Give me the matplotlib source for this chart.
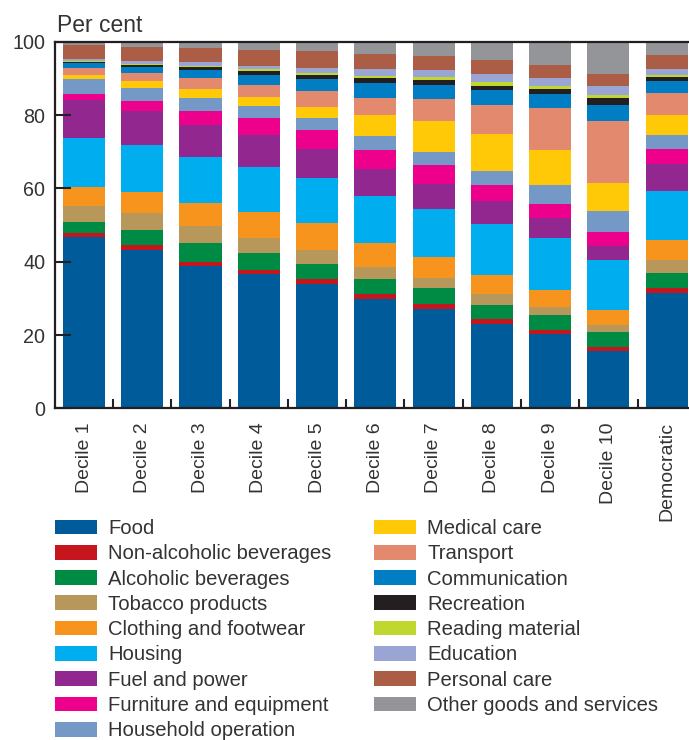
import matplotlib
matplotlib.use("Agg")
import matplotlib.pyplot as plt
import numpy as np

plt.rcParams["font.family"] = ["Liberation Sans", "DejaVu Sans"]

# Household spending shares by income decile (per cent of total expenditure)
groups = ["Decile 1", "Decile 2", "Decile 3", "Decile 4", "Decile 5", "Decile 6",
          "Decile 7", "Decile 8", "Decile 9", "Decile 10", "Democratic"]

food = [46.6, 43.3, 38.9, 36.7, 33.9, 29.7, 27.0, 23.0, 20.3, 15.6, 31.4]
non_alcoholic = [1.2, 1.2, 1.0, 1.1, 1.3, 1.5, 1.4, 1.4, 1.1, 1.1, 1.4]
alcoholic = [3.0, 4.1, 5.2, 4.6, 4.2, 4.1, 4.4, 3.8, 4.0, 4.1, 4.1]
tobacco = [4.4, 4.7, 4.6, 4.0, 3.8, 3.2, 2.7, 3.0, 2.2, 1.9, 3.5]
clothing = [5.2, 5.8, 6.4, 7.2, 7.3, 6.6, 5.8, 5.2, 4.7, 4.1, 5.5]
housing = [13.4, 12.7, 12.4, 12.2, 12.4, 12.9, 13.1, 13.9, 14.1, 13.6, 13.4]
fuel = [10.4, 9.3, 8.8, 8.7, 7.8, 7.3, 6.8, 6.3, 5.5, 3.9, 7.3]
furniture = [1.6, 2.7, 3.8, 4.7, 5.3, 5.1, 5.2, 4.3, 3.8, 3.8, 4.1]
household_op = [4.0, 3.6, 3.5, 3.2, 3.2, 3.9, 3.5, 3.8, 5.2, 5.7, 3.8]
medical = [1.1, 1.9, 2.5, 2.5, 3.0, 5.7, 8.5, 10.1, 9.5, 7.7, 5.5]
transport = [1.9, 2.1, 3.0, 3.3, 4.3, 4.6, 6.0, 7.9, 11.5, 16.9, 6.0]
communication = [1.4, 1.8, 2.2, 2.7, 3.3, 4.1, 3.8, 4.1, 3.8, 4.3, 3.3]
recreation = [0.3, 0.5, 0.8, 1.2, 1.2, 1.4, 1.3, 1.2, 1.4, 1.9, 1.1]
reading = [0.3, 0.3, 0.4, 0.4, 0.4, 0.5, 0.8, 1.1, 0.8, 0.8, 0.5]
education = [0.5, 0.7, 0.9, 0.9, 1.4, 1.9, 2.0, 2.1, 2.2, 2.5, 1.6]
personal_care = [3.8, 3.8, 3.9, 4.3, 4.6, 4.1, 3.8, 3.8, 3.5, 3.3, 3.9]
other = [0.9, 1.5, 1.7, 2.3, 2.6, 3.4, 3.9, 5.0, 6.4, 8.8, 3.6]

series = [
    ("Food", food, "#005b9a"),
    ("Non-alcoholic beverages", non_alcoholic, "#c4161c"),
    ("Alcoholic beverages", alcoholic, "#008b45"),
    ("Tobacco products", tobacco, "#b8975a"),
    ("Clothing and footwear", clothing, "#f7941d"),
    ("Housing", housing, "#00aeef"),
    ("Fuel and power", fuel, "#92278f"),
    ("Furniture and equipment", furniture, "#ec008c"),
    ("Household operation", household_op, "#7499c7"),
    ("Medical care", medical, "#ffc907"),
    ("Transport", transport, "#e2896e"),
    ("Communication", communication, "#007dc3"),
    ("Recreation", recreation, "#231f20"),
    ("Reading material", reading, "#c0d72f"),
    ("Education", education, "#9ba5d3"),
    ("Personal care", personal_care, "#ab5d46"),
    ("Other goods and services", other, "#939598"),
]

text_col = "#333333"
line_col = "#231f20"

fig = plt.figure(figsize=(6.89, 7.40), dpi=100)
ax = fig.add_axes([0.0798, 0.4482, 0.930, 0.4954])

x = np.arange(len(groups))
bottom = np.zeros(len(groups))
handles = []
for label, vals, col in series:
    vals = np.array(vals)
    b = ax.bar(x, vals, width=0.725, bottom=bottom, color=col, label=label,
               linewidth=0, zorder=1)
    handles.append(b)
    bottom += vals

ax.set_xlim(-0.5, 10.5)
ax.set_ylim(0, 100)

for side in ["left", "bottom", "top"]:
    ax.spines[side].set_linewidth(1.6)
    ax.spines[side].set_color(line_col)
    ax.spines[side].set_zorder(3)
ax.spines["right"].set_visible(False)

ax.set_yticks([0, 20, 40, 60, 80, 100])
ax.tick_params(axis="y", direction="in", length=11.5, width=1.5, color=line_col,
               labelsize=14.2, labelcolor=text_col, pad=7)
ax.set_xticks(x)
ax.set_xticklabels(groups, rotation=90, va="top", ha="center")
ax.tick_params(axis="x", which="major", length=0, labelsize=14,
               labelcolor=text_col, pad=10)
ax.set_xticks(np.arange(0.5, 10, 1), minor=True)
ax.tick_params(axis="x", which="minor", direction="in", length=6.5, width=1.5,
               color=line_col)
for t in ax.yaxis.get_major_ticks() + ax.xaxis.get_minor_ticks():
    t.tick1line.set_zorder(4)
ax.set_axisbelow(False)

fig.text(57 / 689, 1 - 31.7 / 740, "Per cent", fontsize=16.5, color=text_col,
         ha="left", va="baseline")

leg = fig.legend(handles=handles, labels=[s[0] for s in series], ncol=2,
                 loc="upper left", bbox_to_anchor=(55 / 689, 1 - 519 / 740),
                 frameon=False, fontsize=14.6, handlelength=2.05,
                 handleheight=0.75, handletextpad=0.58, columnspacing=2.1,
                 labelspacing=0.31, borderpad=0, borderaxespad=0)
for t in leg.get_texts():
    t.set_color(text_col)

fig.savefig("out.png", dpi=100)
